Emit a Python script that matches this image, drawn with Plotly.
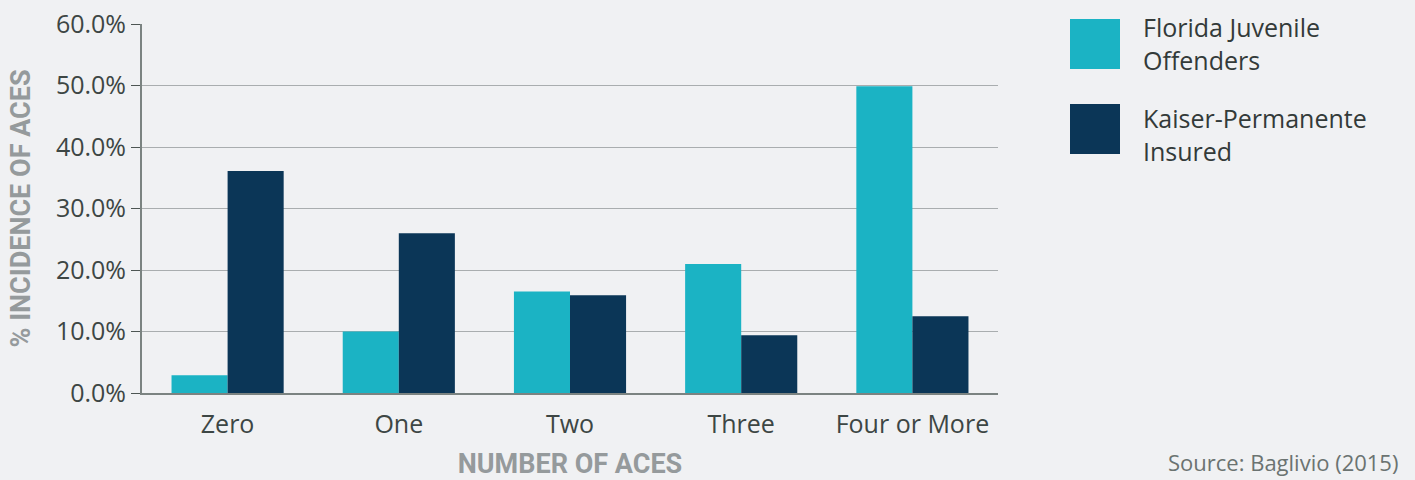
import plotly.graph_objects as go

categories = ["Zero", "One", "Two", "Three", "Four or More"]
florida = [2.9, 10.0, 16.5, 21.0, 49.9]
kaiser = [36.1, 26.0, 15.9, 9.4, 12.5]
series_names = ["Florida Juvenile<br>Offenders", "Kaiser-Permanente<br>Insured"]
colors = ["#1bb3c4", "#0b3657"]
y_ticks = [0, 10, 20, 30, 40, 50, 60]
y_tick_labels = ["0.0%", "10.0%", "20.0%", "30.0%", "40.0%", "50.0%", "60.0%"]

BG = "#f0f1f3"
FONT = "Open Sans"
W, H = 1415, 480
ML, MR, MT, MB = 142, 417, 24, 87
PW, PH = W - ML - MR, H - MT - MB


def px(x):
    return (x - ML) / PW


def py(y):
    return (H - MB - y) / PH


fig = go.Figure()
fig.add_trace(go.Bar(x=categories, y=florida, name="Florida Juvenile Offenders",
                     marker=dict(color=colors[0], line=dict(width=0)), showlegend=False))
fig.add_trace(go.Bar(x=categories, y=kaiser, name="Kaiser-Permanente Insured",
                     marker=dict(color=colors[1], line=dict(width=0)), showlegend=False))

fig.update_layout(
    width=W, height=H,
    paper_bgcolor=BG, plot_bgcolor=BG,
    margin=dict(l=ML, r=MR, t=MT, b=MB, autoexpand=False),
    barmode="group", bargap=0.345, bargroupgap=0,
    font=dict(family=FONT, size=25, color="#3d4644"),
    showlegend=False,
)
fig.update_yaxes(
    range=[0, 60.02], tickvals=y_ticks, ticktext=y_tick_labels,
    showgrid=True, gridcolor="#a9adaf", gridwidth=1,
    showline=True, linecolor="#7b8381", linewidth=2,
    ticks="outside", ticklen=9, tickcolor="#4d5553", tickwidth=1,
    zeroline=False, automargin=False,
    tickfont=dict(size=25, color="#3d4644"),
    title=dict(text="<b>% INCIDENCE OF ACES</b>",
               font=dict(family="Roboto", size=27, color="#959a9c"), standoff=17),
)
fig.update_xaxes(
    showline=True, linecolor="#7b8381", linewidth=2,
    ticks="", tickfont=dict(size=25, color="#3d4644"), ticklabelstandoff=8,
    automargin=False,
    title=dict(text="<b>NUMBER OF ACES</b>",
               font=dict(family="Roboto", size=27, color="#959a9c"), standoff=21),
)

# custom legend (large square swatches like the reference)
swatch_top = [19, 104]
text_center = [44, 134]
for i, name in enumerate(series_names):
    fig.add_shape(type="rect", xref="paper", yref="paper",
                  x0=px(1070), x1=px(1120), y0=py(swatch_top[i] + 50), y1=py(swatch_top[i]),
                  fillcolor=colors[i], line=dict(width=0))
    fig.add_annotation(xref="paper", yref="paper", x=px(1141), y=py(text_center[i]),
                       text=name, showarrow=False, xanchor="left", yanchor="middle",
                       align="left", font=dict(size=25, color="#333a39"))

fig.add_annotation(xref="paper", yref="paper", x=px(1400), y=py(462), text="Source: Baglivio (2015)",
                   showarrow=False, xanchor="right", yanchor="middle",
                   font=dict(size=22, color="#6b7371"))

fig.write_html("out.html", config={"displayModeBar": False},
               post_script="document.body.style.margin='0';document.body.style.overflow='hidden';")
